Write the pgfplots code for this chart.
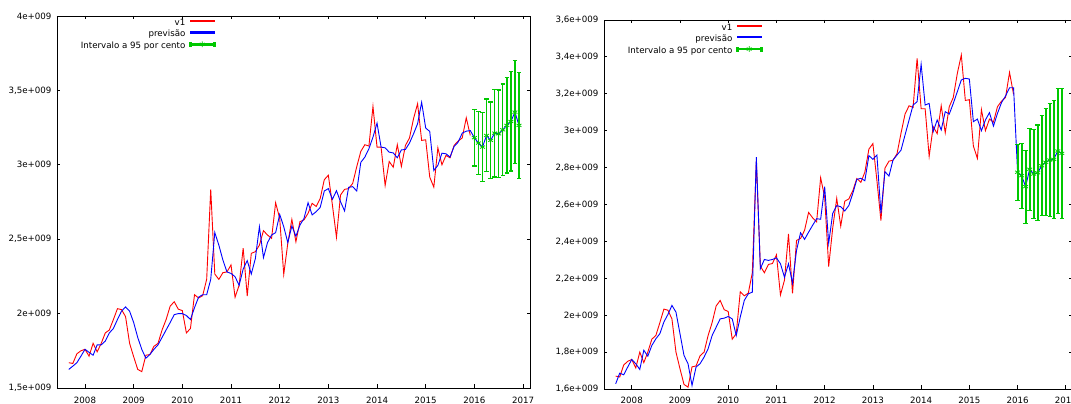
\documentclass[border=0pt]{standalone}
\usepackage{fontspec}
\setmainfont{DejaVu Sans}
\usepackage{pgfplots}
\usepackage{pgfplotstable}
\pgfplotsset{compat=1.18}
\definecolor{gred}{RGB}{255,0,0}
\definecolor{gblue}{RGB}{0,0,255}
\definecolor{ggreen}{RGB}{0,200,0}
\newcommand{\gfont}{\fontsize{8.7}{10}\selectfont}

% i = month index, 0 = 2007:09 ; v1 = observed, pa = previsao (left), pb = previsao (right), units 1e9
\pgfplotstableread{
i v1 pa pb
0 1.670 1.625 1.628
1 1.665 1.647 1.686
2 1.730 1.670 1.677
3 1.750 1.714 1.719
4 1.760 1.760 1.760
5 1.714 1.740 1.737
6 1.800 1.720 1.706
7 1.743 1.790 1.810
8 1.800 1.790 1.778
9 1.870 1.815 1.836
10 1.890 1.870 1.872
11 1.960 1.900 1.900
12 2.033 1.960 1.963
13 2.027 2.016 2.004
14 1.980 2.045 2.053
15 1.800 2.016 2.017
16 1.710 1.940 1.900
17 1.625 1.840 1.782
18 1.610 1.760 1.737
19 1.720 1.700 1.619
20 1.725 1.725 1.719
21 1.780 1.760 1.737
22 1.800 1.790 1.773
23 1.890 1.840 1.818
24 1.960 1.890 1.890
25 2.050 1.940 1.935
26 2.080 1.993 1.980
27 2.030 2.000 1.984
28 2.020 2.000 1.993
29 1.870 1.987 1.980
30 1.900 1.960 1.890
31 2.127 2.040 1.990
32 2.105 2.110 2.080
33 2.120 2.127 2.116
34 2.230 2.127 2.125
35 2.835 2.230 2.857
36 2.266 2.545 2.252
37 2.230 2.460 2.302
38 2.275 2.360 2.297
39 2.280 2.280 2.302
40 2.327 2.270 2.311
41 2.110 2.248 2.279
42 2.190 2.190 2.206
43 2.440 2.300 2.279
44 2.118 2.356 2.174
45 2.405 2.266 2.351
46 2.416 2.370 2.447
47 2.460 2.584 2.411
48 2.557 2.376 2.450
49 2.528 2.477 2.487
50 2.506 2.528 2.523
51 2.745 2.544 2.520
52 2.640 2.667 2.697
53 2.264 2.584 2.390
54 2.472 2.477 2.552
55 2.633 2.589 2.594
56 2.483 2.520 2.588
57 2.618 2.595 2.565
58 2.630 2.640 2.594
59 2.674 2.745 2.660
60 2.741 2.663 2.736
61 2.720 2.685 2.742
62 2.775 2.714 2.729
63 2.900 2.824 2.865
64 2.930 2.840 2.845
65 2.730 2.768 2.868
66 2.513 2.826 2.552
67 2.797 2.752 2.778
68 2.835 2.690 2.754
69 2.840 2.849 2.841
70 2.875 2.853 2.868
71 2.987 2.824 2.895
72 3.090 3.016 2.977
73 3.135 3.052 3.058
74 3.126 3.108 3.139
75 3.392 3.186 3.157
76 3.119 3.280 3.360
77 3.119 3.119 3.139
78 2.861 3.114 3.148
79 3.022 3.085 2.995
80 2.984 3.080 3.058
81 3.135 3.047 3.004
82 2.989 3.100 3.103
83 3.130 3.103 3.090
84 3.180 3.146 3.148
85 3.310 3.208 3.211
86 3.410 3.276 3.275
87 3.164 3.420 3.284
88 3.168 3.247 3.280
89 2.917 3.224 3.049
90 2.850 2.962 3.063
91 3.114 2.996 3.000
92 3.000 3.078 3.058
93 3.063 3.074 3.098
94 3.047 3.052 3.025
95 3.130 3.123 3.094
96 3.160 3.152 3.152
97 3.180 3.213 3.188
98 3.316 3.226 3.233
99 3.197 3.230 3.233
100 nan 3.182 2.775
101 nan 3.146 2.756
102 nan 3.119 2.697
103 nan 3.197 2.791
104 nan 3.164 2.765
105 nan 3.213 2.772
106 nan 3.208 2.810
107 nan 3.235 2.829
108 nan 3.265 2.841
109 nan 3.291 2.845
110 nan 3.354 2.890
111 nan 3.265 2.877
}\series

% forecasts 2016:01-2016:12 with half-width of the 95% interval
\pgfplotstableread{
i fa ea fb eb
100 3.182 0.190 2.775 0.151
101 3.146 0.210 2.756 0.176
102 3.119 0.230 2.697 0.198
103 3.197 0.245 2.791 0.222
104 3.164 0.258 2.765 0.243
105 3.213 0.295 2.772 0.259
106 3.208 0.295 2.810 0.271
107 3.235 0.308 2.829 0.289
108 3.265 0.320 2.841 0.307
109 3.291 0.333 2.845 0.321
110 3.354 0.345 2.890 0.340
111 3.265 0.355 2.877 0.353
}\fcast

\pgfplotsset{
  gstyle/.style={
    scale only axis,
    xmin=2007.4247, xmax=2017.143,
    axis line style={line width=0.9bp, black},
    tick align=inside,
    major tick length=3.5bp,
    tick style={line width=0.8bp, black},
    xtick={2008,2009,2010,2011,2012,2013,2014,2015,2016,2017},
    xticklabels={2008,2009,2010,2011,2012,2013,2014,2015,2016,2017},
    ticklabel style={font=\gfont},
    yticklabel style={xshift=-2bp},
    legend plot pos=right,
    legend cell align=right,
    legend style={draw=none, fill=none, inner sep=0pt, outer sep=0pt,
      anchor=north east, row sep=2bp, column sep=4bp,
      nodes={inner sep=0pt, text height=7bp, text depth=2.5bp, font=\gfont}},
    clip=true,
  },
  gline/.style={line width=0.9bp, mark=none, color=#1,
    legend image code/.code={\fill[#1] (0bp,1.65bp) rectangle (24bp,2.85bp);}},
  gerr/.style={color=ggreen, only marks, mark=asterisk, mark size=2.8bp,
    mark options={draw=ggreen, fill=ggreen, line width=0.8bp},
    legend image code/.code={
      \fill[ggreen] (0bp,1.65bp) rectangle (24bp,2.85bp);
      \fill[ggreen] (-0.6bp,0bp) rectangle (0.7bp,4.5bp);
      \fill[ggreen] (23.3bp,0bp) rectangle (24.6bp,4.5bp);
      \draw[ggreen, line width=0.9bp] plot[mark=asterisk, mark size=2.8bp] coordinates {(12bp,2.2bp)};},
    error bars/.cd, y dir=both, y explicit,
    error bar style={draw=ggreen, line width=#1},
    error mark options={draw=ggreen, line width=1.1bp, mark size=2.2bp, rotate=90}},
  gerr/.default=1.4bp,
}

\begin{document}
\begin{tikzpicture}[x=1bp,y=1bp]
\begin{axis}[gstyle,
  at={(57bp,16bp)}, anchor=south west, width=473bp, height=372bp,
  ymin=1.5, ymax=4.0,
  ytick={1.5,2,2.5,3,3.5,4},
  yticklabels={{1,5e+009},{2e+009},{2,5e+009},{3e+009},{3,5e+009},{4e+009}},
  xticklabel style={yshift=-5.5bp},
  legend style={at={(0.334,0.9933)}},
]
\addplot[gline=gred] table[x expr={2007+(8+\thisrow{i})/12}, y=v1] {\series};
\addlegendentry{v1}
\addplot[gline=gblue] table[x expr={2007+(8+\thisrow{i})/12}, y=pa] {\series};
\addlegendentry{previsão}
\addplot[gerr=1.4bp] table[x expr={2007+(8+\thisrow{i})/12}, y=fa, y error=ea] {\fcast};
\addlegendentry{Intervalo a 95 por cento}
\end{axis}

\begin{axis}[gstyle,
  at={(604bp,15bp)}, anchor=south west, width=468.7bp, height=369bp,
  ymin=1.6, ymax=3.6,
  ytick={1.6,1.8,2,2.2,2.4,2.6,2.8,3,3.2,3.4,3.6},
  yticklabels={{1,6e+009},{1,8e+009},{2e+009},{2,2e+009},{2,4e+009},{2,6e+009},{2,8e+009},{3e+009},{3,2e+009},{3,4e+009},{3,6e+009}},
  xticklabel style={yshift=-4.6bp},
  legend style={at={(0.337,0.9912)}},
]
\addplot[gline=gred] table[x expr={2007+(8+\thisrow{i})/12}, y=v1] {\series};
\addlegendentry{v1}
\addplot[gline=gblue] table[x expr={2007+(8+\thisrow{i})/12}, y=pb] {\series};
\addlegendentry{previsão}
\addplot[gerr=1.9bp] table[x expr={2007+(8+\thisrow{i})/12}, y=fb, y error=eb] {\fcast};
\addlegendentry{Intervalo a 95 por cento}
\end{axis}
\pgfresetboundingbox
\path (0bp,0bp) rectangle (1071bp,404bp);
\end{tikzpicture}
\end{document}
